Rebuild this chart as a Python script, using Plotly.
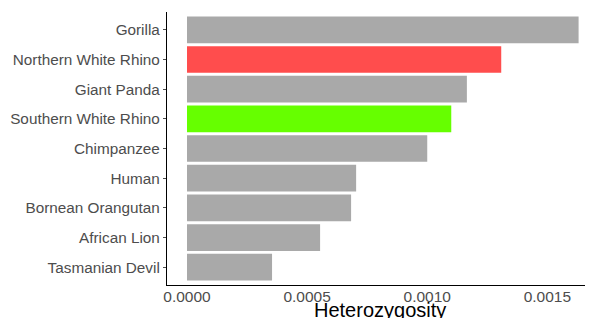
import plotly.graph_objects as go

species = ["Gorilla", "Northern White Rhino", "Giant Panda", "Southern White Rhino",
           "Chimpanzee", "Human", "Bornean Orangutan", "African Lion", "Tasmanian Devil"]
heterozygosity = [0.00163, 0.001308, 0.001165, 0.0011, 0.001, 0.000704, 0.000683, 0.000554, 0.000354]
bar_colors = ["#A9A9A9", "#FF4D4D", "#A9A9A9", "#66FF00", "#A9A9A9",
              "#A9A9A9", "#A9A9A9", "#A9A9A9", "#A9A9A9"]
x_ticks = [0.0, 0.0005, 0.0010, 0.0015]
x_tick_labels = ["0.0000", "0.0005", "0.0010", "0.0015"]
x_title = "Heterozygosity"

fig = go.Figure(go.Bar(
    x=heterozygosity, y=species, orientation="h",
    marker=dict(color=bar_colors, line=dict(width=0)),
    width=0.9,
))

fig.update_layout(
    width=585, height=310,
    margin=dict(l=159, r=0, t=4, b=33),
    paper_bgcolor="white", plot_bgcolor="white",
    font=dict(family="Liberation Sans, Arial, sans-serif"),
    showlegend=False,
    xaxis=dict(
        range=[-0.0000833, 0.00169],
        tickvals=x_ticks, ticktext=x_tick_labels,
        tickfont=dict(size=15.5, color="#4d4d4d"),
        showgrid=False, zeroline=False,
        showline=True, linecolor="black", linewidth=1.2,
        ticks="", ticklabelstandoff=-3,
        automargin=False,
    ),
    yaxis=dict(
        categoryorder="array", categoryarray=species,
        range=[8.6, -0.6],
        tickfont=dict(size=15.3, color="#4d4d4d"),
        showgrid=False, zeroline=False,
        showline=True, linecolor="black", linewidth=1.2,
        ticks="outside", ticklen=3, tickcolor="#4d4d4d",
        automargin=False,
    ),
    annotations=[dict(
        text=x_title, xref="paper", yref="paper", x=0.5, y=-0.045,
        xanchor="center", yanchor="top", showarrow=False,
        font=dict(size=20, color="black"),
    )],
)

fig.write_html("out.html")
